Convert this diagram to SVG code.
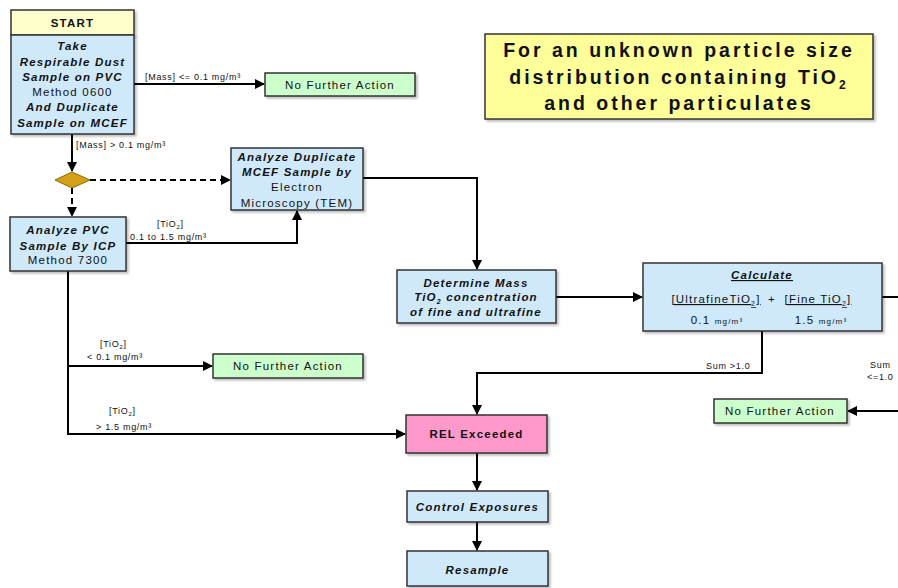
<svg xmlns="http://www.w3.org/2000/svg" width="898" height="588" viewBox="0 0 898 588">
<defs>
<marker id="ah" viewBox="0 0 10 10" refX="9" refY="5" markerWidth="5" markerHeight="5" orient="auto" markerUnits="strokeWidth">
<path d="M0,0 L10,5 L0,10 z" fill="#000"/>
</marker>
<filter id="sh" x="-5%" y="-5%" width="115%" height="120%">
<feDropShadow dx="2" dy="2" stdDeviation="1" flood-color="#000" flood-opacity="0.25"/>
</filter>
</defs>
<style>
text{font-family:"Liberation Sans",Arial,sans-serif;fill:#111;}
.box{stroke:#333;stroke-width:1.5;filter:url(#sh);}
.blue{fill:#cfe9fb;}
.green{fill:#ccffcc;}
.ylw{fill:#ffffcc;}
.pink{fill:#ff99cc;}
.title{fill:#ffff99;}
.t{font-size:11.5px;letter-spacing:1.2px;text-anchor:middle;}
.bi{font-weight:bold;font-style:italic;}
.b{font-weight:bold;}
.lbl{font-size:9px;letter-spacing:0.7px;}
.c{stroke:#000;stroke-width:2;fill:none;}
.d{stroke:#000;stroke-width:2;fill:none;stroke-dasharray:6,4;}
.big{font-size:19.5px;font-weight:bold;letter-spacing:3px;text-anchor:middle;}
</style>

<g id="connectors">
<path class="c" d="M134,84 H264" marker-end="url(#ah)"/>
<path class="c" d="M72,134 V171" marker-end="url(#ah)"/>
<path class="d" d="M90,180 H230" marker-end="url(#ah)"/>
<path class="d" d="M72,188 V216" marker-end="url(#ah)"/>
<path class="c" d="M126,243 H297 V211" marker-end="url(#ah)"/>
<path class="c" d="M68,271 V434 H405" marker-end="url(#ah)"/>
<path class="c" d="M68,366 H212" marker-end="url(#ah)"/>
<path class="c" d="M363,178 H477 V269" marker-end="url(#ah)"/>
<path class="c" d="M556,297 H642" marker-end="url(#ah)"/>
<path class="c" d="M882,297 H898"/>
<path class="c" d="M762,331 V373 H477 V414" marker-end="url(#ah)"/>
<path class="c" d="M898,411 H848" marker-end="url(#ah)"/>
<path class="c" d="M477,453 V490" marker-end="url(#ah)"/>
<path class="c" d="M477,522 V550" marker-end="url(#ah)"/>
<text class="lbl" x="145" y="80">[Mass] &lt;= 0.1 mg/m³</text>
<text class="lbl" x="76" y="148">[Mass] &gt; 0.1 mg/m³</text>
<text class="lbl" x="157" y="227">[TiO<tspan font-size="6" dy="1.5">2</tspan><tspan dy="-1.5">]</tspan></text>
<text class="lbl" x="130" y="240">0.1 to 1.5 mg/m³</text>
<text class="lbl" x="100" y="347">[TiO<tspan font-size="6" dy="1.5">2</tspan><tspan dy="-1.5">]</tspan></text>
<text class="lbl" x="87" y="360">&lt; 0.1 mg/m³</text>
<text class="lbl" x="109" y="414">[TiO<tspan font-size="6" dy="1.5">2</tspan><tspan dy="-1.5">]</tspan></text>
<text class="lbl" x="96" y="430">&gt; 1.5 mg/m³</text>
<text class="lbl" x="706" y="369">Sum &gt;1.0</text>
<text class="lbl" x="870" y="368">Sum</text>
<text class="lbl" x="867" y="380">&lt;=1.0</text>
</g>

<g id="start">
<rect class="box ylw" x="11" y="10" width="123" height="25"/>
<rect class="box blue" x="11" y="35" width="123" height="99"/>
<text class="t b" x="72.5" y="27">START</text>
<text class="t bi" x="72.5" y="50">Take</text>
<text class="t bi" x="72.5" y="66">Respirable Dust</text>
<text class="t bi" x="72.5" y="81">Sample on PVC</text>
<text class="t" x="72.5" y="96">Method 0600</text>
<text class="t bi" x="72.5" y="111">And Duplicate</text>
<text class="t bi" x="72.5" y="127">Sample on MCEF</text>
</g>

<g id="nfa1">
<rect class="box green" x="265" y="73" width="150" height="23"/>
<text class="t" x="340" y="89">No Further Action</text>
</g>

<g id="decision">
<polygon points="55,180 72,172 90,180 72,188" fill="#d4a017" stroke="#8a6a00" stroke-width="1"/>
</g>

<g id="dup">
<rect class="box blue" x="231" y="148" width="132" height="62"/>
<text class="t bi" x="297" y="161">Analyze Duplicate</text>
<text class="t bi" x="297" y="176">MCEF Sample by</text>
<text class="t" x="297" y="191">Electron</text>
<text class="t" x="297" y="207">Microscopy (TEM)</text>
</g>

<g id="pvc">
<rect class="box blue" x="10" y="217" width="116" height="54"/>
<text class="t bi" x="68" y="234">Analyze PVC</text>
<text class="t bi" x="68" y="250">Sample By ICP</text>
<text class="t" x="68" y="264">Method 7300</text>
</g>

<g id="determine">
<rect class="box blue" x="397" y="270" width="159" height="53"/>
<text class="t bi" x="476" y="287">Determine Mass</text>
<text class="t bi" x="476" y="301">TiO<tspan font-size="7" dy="3">2</tspan><tspan dy="-3"> concentration</tspan></text>
<text class="t bi" x="476" y="316">of fine and ultrafine</text>
</g>

<g id="calculate">
<rect class="box blue" x="643" y="263" width="239" height="68"/>
<text class="t bi" x="762" y="279" text-decoration="underline">Calculate</text>
<text class="t" x="716" y="303" text-decoration="underline">[UltrafineTiO<tspan font-size="7" dy="3">2</tspan><tspan dy="-3">]</tspan></text>
<text class="t" x="772" y="303">+</text>
<text class="t" x="818" y="303" text-decoration="underline">[Fine TiO<tspan font-size="7" dy="3">2</tspan><tspan dy="-3">]</tspan></text>
<text class="t" x="717" y="324">0.1 <tspan font-size="8">mg/m³</tspan></text>
<text class="t" x="821" y="324">1.5 <tspan font-size="8">mg/m³</tspan></text>
</g>

<g id="nfa2">
<rect class="box green" x="213" y="354" width="150" height="24"/>
<text class="t" x="288" y="370">No Further Action</text>
</g>

<g id="nfa3">
<rect class="box green" x="714" y="399" width="133" height="24"/>
<text class="t" x="780" y="415">No Further Action</text>
</g>

<g id="rel">
<rect class="box pink" x="406" y="415" width="141" height="38"/>
<text class="t b" x="476.5" y="438">REL Exceeded</text>
</g>

<g id="control">
<rect class="box blue" x="407" y="491" width="141" height="31"/>
<text class="t bi" x="477.5" y="511">Control Exposures</text>
</g>

<g id="resample">
<rect class="box blue" x="407" y="551" width="141" height="35"/>
<text class="t bi" x="477.5" y="574">Resample</text>
</g>

<g id="title">
<rect class="box title" x="485" y="34" width="388" height="85"/>
<text class="big" x="679" y="57">For an unknown particle size</text>
<text class="big" x="679" y="84">distribution containing TiO<tspan font-size="12" dy="5">2</tspan></text>
<text class="big" x="679" y="110">and other particulates</text>
</g>
</svg>
